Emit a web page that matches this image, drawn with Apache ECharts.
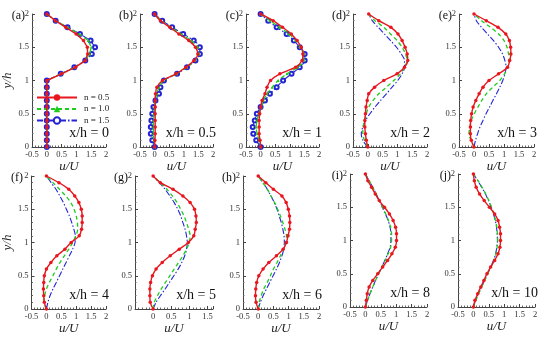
<!DOCTYPE html>
<html><head><meta charset="utf-8">
<script src="https://cdn.jsdelivr.net/npm/echarts@6/dist/echarts.min.js"></script>
<style>html,body{margin:0;padding:0;background:#fff}#c{width:550px;height:340px}</style>
</head><body><div id="c"></div>
<script>
// y/h sample positions
const yPos = [0,0.1,0.2,0.3,0.4,0.5,0.6,0.7,0.8,0.9,1.0,1.1,1.2,1.3,1.4,1.5,1.6,1.7,1.8,1.9,2.0];
const panelLetters = ['(a)','(b)','(c)','(d)','(e)','(f)','(g)','(h)','(i)','(j)'];
const panelStations = ['x/h = 0','x/h = 0.5','x/h = 1','x/h = 2','x/h = 3','x/h = 4','x/h = 5','x/h = 6','x/h = 8','x/h = 10'];
const seriesNames = ['n = 0.5','n = 1.0','n = 1.5'];
const xTicks = [-0.5,0,0.5,1,1.5,2];
const yTicks = [0,0.5,1,1.5,2];

// u/U values, panel (a) .. (j), for n = 0.5, 1.0, 1.5
const u05_a = [0,0,0,0,0,0,0,0,0,0,0,0.5,0.97,1.3,1.38,1.37,1.24,0.99,0.64,0.29,0];
const u10_a = [0,0,0,0,0,0,0,0,0,0,0,0.48,0.95,1.3,1.45,1.5,1.4,1.1,0.7,0.3,0];
const u15_a = [0,0,0,0,0,0,0,0,0,0,0,0.47,0.93,1.3,1.52,1.63,1.48,1.12,0.7,0.3,0];

const u05_b = [0,0.01,0.02,0.02,0.02,0.02,0.02,0.02,0.03,0.08,0.27,0.73,1.07,1.35,1.48,1.4,1.17,0.83,0.52,0.2,0];
const u10_b = [0,-0.02,-0.04,-0.04,-0.03,-0.02,0,0.02,0.08,0.15,0.3,0.75,1.1,1.38,1.52,1.48,1.25,0.9,0.56,0.23,0];
const u15_b = [0,-0.08,-0.13,-0.13,-0.11,-0.08,-0.04,0.03,0.15,0.2,0.32,0.77,1.11,1.4,1.55,1.55,1.34,0.98,0.6,0.26,0];

const u05_c = [0,-0.02,-0.05,-0.05,-0.05,-0.03,0,0.05,0.15,0.22,0.34,0.66,1.2,1.42,1.45,1.39,1.25,1.05,0.75,0.43,0];
const u10_c = [0,-0.05,-0.12,-0.15,-0.12,-0.06,0.02,0.1,0.22,0.4,0.6,0.9,1.27,1.48,1.48,1.36,1.2,0.97,0.65,0.32,0];
const u15_c = [0,-0.15,-0.25,-0.27,-0.2,-0.13,0,0.15,0.32,0.55,0.77,1.06,1.34,1.51,1.51,1.34,1.14,0.89,0.55,0.26,0];

const u05_d = [0,-0.05,-0.08,-0.1,-0.1,-0.08,-0.06,-0.02,0.03,0.23,0.54,0.99,1.24,1.35,1.33,1.26,1.16,1.02,0.78,0.37,0.03];
const u10_d = [0,-0.11,-0.17,-0.16,-0.11,-0.05,0.03,0.18,0.37,0.63,0.88,1.1,1.24,1.33,1.27,1.16,0.99,0.77,0.54,0.24,0.03];
const u15_d = [0,-0.17,-0.22,-0.17,-0.08,0.07,0.24,0.43,0.63,0.82,1.01,1.16,1.24,1.24,1.13,0.97,0.77,0.56,0.35,0.15,0.03];

const u05_e = [0,-0.09,-0.12,-0.12,-0.11,-0.08,-0.03,0.06,0.17,0.3,0.5,0.82,1.12,1.19,1.23,1.22,1.18,1.06,0.8,0.41,0];
const u10_e = [0,-0.1,-0.17,-0.14,-0.09,0.01,0.13,0.26,0.41,0.63,0.86,1.02,1.13,1.17,1.15,1.1,1.0,0.82,0.55,0.25,0];
const u15_e = [0,0.05,0.12,0.2,0.3,0.4,0.52,0.63,0.75,0.86,0.96,1.03,1.07,1.03,0.95,0.82,0.65,0.45,0.25,0.08,0];

const u05_f = [0,-0.07,-0.09,-0.1,-0.09,-0.07,0.0,0.15,0.35,0.62,0.83,1.1,1.18,1.2,1.2,1.17,1.09,0.95,0.75,0.42,0];
const u10_f = [0,-0.08,-0.06,0.0,0.1,0.22,0.33,0.46,0.6,0.75,0.88,0.99,1.05,1.04,1.0,0.93,0.82,0.65,0.44,0.22,0];
const u15_f = [0,0.05,0.12,0.22,0.33,0.44,0.55,0.66,0.77,0.88,0.96,0.97,0.92,0.85,0.77,0.67,0.57,0.45,0.32,0.16,0];

const u05_g = [0,-0.08,-0.09,-0.09,-0.07,-0.02,0.08,0.25,0.47,0.72,0.97,1.12,1.16,1.19,1.18,1.14,1.02,0.82,0.55,0.2,0];
const u10_g = [0,0.03,0.12,0.22,0.34,0.46,0.58,0.7,0.82,0.92,0.99,1.02,0.98,0.92,0.85,0.76,0.66,0.53,0.38,0.2,0];
const u15_g = [0,0.08,0.2,0.33,0.45,0.57,0.69,0.79,0.87,0.92,0.94,0.92,0.88,0.82,0.76,0.68,0.58,0.46,0.33,0.17,0];

const u05_h = [0,-0.07,-0.09,-0.08,-0.05,0.02,0.16,0.35,0.6,0.82,0.93,0.98,1.03,1.04,1.03,0.99,0.92,0.78,0.5,0.25,0];
const u10_h = [0,0.03,0.1,0.18,0.3,0.4,0.5,0.62,0.73,0.83,0.9,0.93,0.88,0.81,0.73,0.64,0.54,0.42,0.3,0.15,0];
const u15_h = [0,0.07,0.16,0.27,0.38,0.49,0.6,0.7,0.78,0.84,0.86,0.85,0.81,0.76,0.69,0.62,0.53,0.42,0.3,0.16,0];

const u05_i = [0,0.03,0.06,0.12,0.24,0.4,0.56,0.72,0.86,0.97,1.01,1.01,0.98,0.9,0.78,0.62,0.45,0.32,0.2,0.08,0];
const u10_i = [0,0.07,0.15,0.24,0.33,0.43,0.53,0.64,0.74,0.82,0.85,0.85,0.82,0.75,0.66,0.55,0.45,0.35,0.24,0.12,0];
const u15_i = [0,0.07,0.15,0.24,0.33,0.43,0.53,0.63,0.72,0.8,0.83,0.83,0.8,0.74,0.65,0.55,0.45,0.35,0.24,0.12,0];

const u05_j = [0,0.05,0.14,0.24,0.34,0.44,0.56,0.69,0.8,0.86,0.88,0.88,0.85,0.8,0.69,0.52,0.35,0.2,0.09,0.03,0];
const u10_j = [0,0.08,0.17,0.27,0.37,0.47,0.57,0.66,0.73,0.77,0.79,0.78,0.76,0.72,0.66,0.59,0.5,0.4,0.28,0.15,0];
const u15_j = [0,0.07,0.16,0.26,0.36,0.46,0.56,0.65,0.72,0.76,0.78,0.77,0.75,0.71,0.65,0.58,0.49,0.39,0.27,0.14,0];

const n05 = [u05_a,u05_b,u05_c,u05_d,u05_e,u05_f,u05_g,u05_h,u05_i,u05_j];
const n10 = [u10_a,u10_b,u10_c,u10_d,u10_e,u10_f,u10_g,u10_h,u10_i,u10_j];
const n15 = [u15_a,u15_b,u15_c,u15_d,u15_e,u15_f,u15_g,u15_h,u15_i,u15_j];

// layout (left, top, width, height) of each panel
const gridBoxes = [
  [32,14,74,133],[140,14,73,133],[246,14,73,133],[353,14,74,133],[459,14,75,133],
  [30,176,76,133],[135,176,78,133],[243,176,76,133],[350,174,77,133],[458,174,77,133]
];
const SERIF = '"Liberation Serif","DejaVu Serif",serif';
const RED = '#e8161e', GREEN = '#1ccc1c', BLUE = '#2424d6';

const grids = [], xAxes = [], yAxes = [], series = [], graphics = [];
gridBoxes.forEach((b, p) => {
  grids.push({left:b[0], top:b[1], width:b[2], height:b[3], containLabel:false});
  const isG = (p === 6);
  xAxes.push({
    type:'value', gridIndex:p, min:xTicks[0], max: isG ? 1.65 : xTicks[xTicks.length-1], interval:0.5,
    name:'u/U', nameLocation:'middle', nameGap:10,
    nameTextStyle:{fontFamily:SERIF, fontStyle:'italic', fontSize:13, color:'#222'},
    axisLine:{show:true, onZero:false, lineStyle:{color:'#444', width:1}},
    axisTick:{show:true, inside:true, length:3, lineStyle:{color:'#444'}},
    minorTick:{show:true, splitNumber:5, length:1.5, lineStyle:{color:'#666'}},
    splitLine:{show:false},
    axisLabel:{fontFamily:SERIF, fontSize:8.5, color:'#333', margin:3,
      showMaxLabel: !isG,
      formatter: v => (isG && v < 0) ? '' : String(v)}
  });
  yAxes.push({
    type:'value', gridIndex:p, min:yTicks[0], max:yTicks[yTicks.length-1], interval:0.5,
    name: (p === 0 || p === 5) ? 'y/h' : '', nameLocation:'middle', nameGap:15, nameRotate:90,
    nameTextStyle:{fontFamily:SERIF, fontStyle:'italic', fontSize:13, color:'#222'},
    axisLine:{show:true, onZero:false, lineStyle:{color:'#444', width:1}},
    axisTick:{show:true, inside:true, length:3, lineStyle:{color:'#444'}},
    minorTick:{show:true, splitNumber:5, length:1.5, lineStyle:{color:'#666'}},
    splitLine:{show:false},
    axisLabel:{fontFamily:SERIF, fontSize:8.5, color:'#333', margin:3}
  });
  const early = p < 3;
  const toPts = arr => arr.map((u,i) => [u, yPos[i]]);
  series.push({
    type:'line', name:seriesNames[2], xAxisIndex:p, yAxisIndex:p, data:toPts(n15[p]),
    smooth: p === 0 ? false : 0.3, color:BLUE,
    lineStyle:{color:BLUE, width:1.1, type:[6,2,1.5,2]},
    symbol: early ? 'emptyCircle' : 'none', symbolSize:4, showSymbol: early,
    itemStyle:{color:BLUE, borderColor:BLUE, borderWidth:0.8}, animation:false, z:2
  });
  series.push({
    type:'line', name:seriesNames[1], xAxisIndex:p, yAxisIndex:p, data:toPts(n10[p]),
    smooth: p === 0 ? false : 0.3, color:GREEN,
    lineStyle:{color:GREEN, width:1.3, type:[4,3]},
    symbol: early ? 'triangle' : 'none', symbolSize:3, showSymbol: early,
    itemStyle:{color:GREEN}, animation:false, z:3
  });
  series.push({
    type:'line', name:seriesNames[0], xAxisIndex:p, yAxisIndex:p, data:toPts(n05[p]),
    smooth: p === 0 ? false : 0.3, color:RED,
    lineStyle:{color:RED, width:1.4},
    symbol:'circle', symbolSize:3.5, showSymbol:true,
    itemStyle:{color:RED}, animation:false, z:4
  });
  graphics.push({type:'text', x:b[0]-7, y:b[1]+2,
    style:{text:panelLetters[p], font:'12px '+SERIF, fill:'#111', align:'right', verticalAlign:'middle'}});
  graphics.push({type:'text', x:b[0]+b[2]+3, y:b[1]+b[3]-14,
    style:{text:panelStations[p], font:'14px '+SERIF, fill:'#111', align:'right', verticalAlign:'middle'}});
});

const chart = echarts.init(document.getElementById('c'), null, {renderer:'canvas'});
chart.setOption({
  animation:false,
  backgroundColor:'#fff',
  grid:grids, xAxis:xAxes, yAxis:yAxes, series:series,
  legend:{data:seriesNames, orient:'vertical', left:36, top:93, itemWidth:40, itemHeight:8, itemGap:2.5, padding:0,
    textStyle:{fontFamily:SERIF, fontSize:9, color:'#222', padding:[0,0,0,2]}},
  graphic:graphics
});
</script></body></html>
